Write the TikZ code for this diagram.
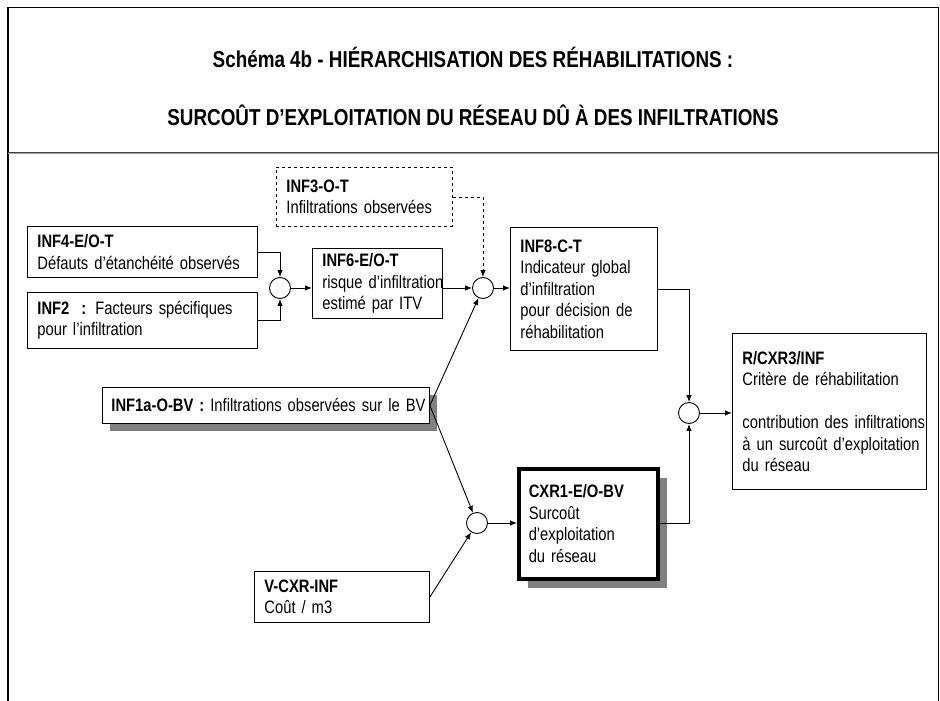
\documentclass[tikz,border=0pt]{standalone}
\usepackage{fontspec}
\setmainfont{Liberation Sans}[FakeStretch=0.82]
\usetikzlibrary{arrows.meta,shadows}
\newcommand\corps{\fontsize{18}{21.5}\selectfont\spaceskip=4.1pt plus 1pt minus 0.5pt\relax}
\newcommand\grand{\fontsize{23}{27}\selectfont\bfseries\spaceskip=5.2pt plus 1pt minus 0.5pt\relax}
\begin{document}
\begin{tikzpicture}[x=1pt,y=-1pt,
  font=\corps,
  box/.style={draw, line width=0.9pt, anchor=north west, inner xsep=10pt, inner ysep=0pt, align=left, fill=white},
  circ/.style={circle, draw, line width=0.9pt, minimum size=21pt, inner sep=0pt, fill=white},
  arr/.style={-{Latex[length=7pt,width=5.5pt]}, line width=0.9pt},
  shad/.style={drop shadow={shadow xshift=#1, shadow yshift=-#1, fill=black!50, opacity=1}},
  frame/.style={line width=1.5pt},
  titre/.style={font=\grand}
]
\useasboundingbox (0,0) rectangle (940,701);
% frame and title
\draw[frame] (8,701) -- (8,7.5) -- (938.5,7.5) -- (938.5,701);
\draw[line width=1pt, black!75] (8,152.5) -- (938,152.5);
\draw[line width=1pt, black!35] (8,153.5) -- (938,153.5);
\node[titre] (t1) at (473,57) {Schéma 4b - HIÉRARCHISATION DES RÉHABILITATIONS :};
\node[titre] (t2) at (473,115) {SURCOÛT D’EXPLOITATION DU RÉSEAU DÛ À DES INFILTRATIONS};

% boxes
\node[box, dashed, text width=156pt, minimum height=59pt] (inf3) at (276,167) {\textbf{INF3-O-T}\\Infiltrations observées};
\node[box, text width=210pt, minimum height=51pt] (inf4) at (27,226) {\textbf{INF4-E/O-T}\\\mbox{Défauts d’étanchéité observés}};
\node[box, text width=210pt, minimum height=56pt] (inf2) at (27,292) {\textbf{INF2\ \ :} Facteurs spécifiques\\pour l’infiltration};
\node[box, text width=110pt, minimum height=70pt] (inf6) at (312,248) {\textbf{INF6-E/O-T}\\\mbox{risque d’infiltration}\\estimé par ITV};
\node[box, text width=127pt, minimum height=123pt] (inf8) at (510,227) {\textbf{INF8-C-T}\\Indicateur global\\d’infiltration\\pour décision de\\réhabilitation};
\node[box, text width=174pt, minimum height=156pt] (rcx) at (732,333) {\textbf{R/CXR3/INF}\\Critère de réhabilitation\\[21.5pt]\mbox{contribution des infiltrations}\\\mbox{à un surcoût d’exploitation}\\du réseau};
\node[box, shad=8pt, inner xsep=9pt, text width=309pt, minimum height=36pt] (inf1a) at (102,387) {\mbox{\textbf{INF1a-O-BV :} Infiltrations observées sur le BV}};
\node[box, shad=9pt, line width=3.5pt, text width=119pt, minimum height=110pt] (cxr1) at (517,467) {\textbf{CXR1-E/O-BV}\\Surcoût\\d’exploitation\\du réseau};
\node[box, text width=155pt, minimum height=51pt] (vcxr) at (254,571) {\textbf{V-CXR-INF}\\Coût / m3};

% junctions
\node[circ] (c1) at (280,288) {};
\node[circ] (c2) at (483,288) {};
\node[circ] (c3) at (689,413) {};
\node[circ] (c4) at (477,523) {};

% connectors
\draw[arr] (inf4.east) -| (c1.north);
\draw[arr] (inf2.east) -| (c1.south);
\draw[arr] (c1.east) -- (c1.east -| inf6.west);
\draw[arr] (c2.west -| inf6.east) -- (c2.west);
\draw[arr, dashed] (inf3.east) -| (c2.north);
\draw[arr] (c2.east) -- (c2.east -| inf8.west);
\draw[arr] (inf8.east) -| (c3.north);
\draw[arr] (cxr1.east) -| (c3.south);
\draw[arr] (c3.east) -- (c3.east -| rcx.west);
\draw[arr] (inf1a.east) -- (c2);
\draw[arr] (inf1a.east) -- (c4);
\draw[arr] (vcxr.east) -- (c4);
\draw[arr] (c4.east) -- (c4.east -| cxr1.west);
\end{tikzpicture}
\end{document}
